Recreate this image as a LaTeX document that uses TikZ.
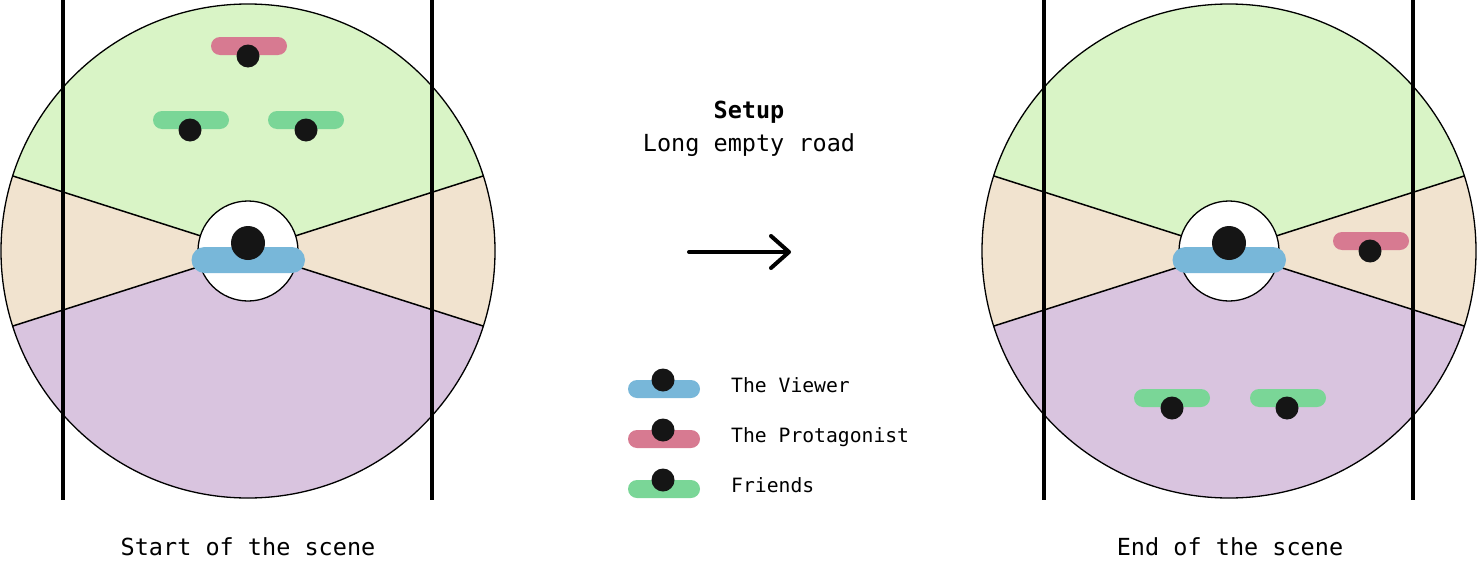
\documentclass[tikz,border=0pt]{standalone}
\usepackage{fontspec}
\setmonofont{DejaVu Sans Mono}
\usetikzlibrary{arrows.meta}
\definecolor{zgreen}{HTML}{D9F4C6}
\definecolor{zbeige}{HTML}{F1E3CF}
\definecolor{zpurple}{HTML}{D9C4DF}
\definecolor{cblue}{HTML}{78B7D9}
\definecolor{cpink}{HTML}{D77A91}
\definecolor{cgreen}{HTML}{7AD697}
\definecolor{cdot}{HTML}{151515}
\tikzset{
  outline/.style={draw=black, line width=1.3pt},
  sector/.style={draw=black, line width=1.5pt},
  road/.style={draw=black, line width=4pt},
  dot/.style={fill=cdot},
  bigtxt/.style={font=\ttfamily\fontsize{23.5}{28}\selectfont, anchor=base, inner sep=0pt},
  legtxt/.style={font=\ttfamily\fontsize{19.7}{24}\selectfont, anchor=base west, inner sep=0pt},
}
\newcommand\scenedisk[2]{%
  \begin{scope}
    \clip (#1,#2) circle (247pt);
    \fill[zpurple] (#1-260,#2-260) rectangle (#1+260,#2+260);
    \fill[zbeige] (#1,#2) -- (#1-300,#2-95.7) -- (#1-300,#2+95.7) -- cycle;
    \fill[zbeige] (#1,#2) -- (#1+300,#2-95.7) -- (#1+300,#2+95.7) -- cycle;
    \fill[zgreen] (#1,#2) -- (#1-300,#2-95.7) -- (#1-300,#2-300) -- (#1+300,#2-300) -- (#1+300,#2-95.7) -- cycle;
    \draw[sector] (#1-300,#2-95.7) -- (#1+300,#2+95.7);
    \draw[sector] (#1-300,#2+95.7) -- (#1+300,#2-95.7);
  \end{scope}
  \draw[outline] (#1,#2) circle (247pt);
  \filldraw[fill=white, outline] (#1,#2) circle (50pt);
  \fill[cblue, rounded corners=13pt] (#1-56.5,#2-4) rectangle (#1+57,#2+22);
  \fill[dot] (#1,#2-8) circle (17pt);
}
\newcommand\persona[6]{% colour, bar centre x, bar centre y, dot x, dot y, half width
  \fill[#1, rounded corners=9pt] (#2-#6,#3-9) rectangle (#2+#6,#3+9);
  \fill[dot] (#4,#5) circle (11.5pt);
}
\begin{document}
\begin{tikzpicture}[x=1pt, y=-1pt]
\useasboundingbox (0,0) rectangle (1477,562);
% left disk
\scenedisk{248}{251}
\persona{cpink}{249}{46}{248}{56}{38}
\persona{cgreen}{191}{120}{190}{130}{38}
\persona{cgreen}{306}{120}{306}{130}{38}
\draw[road] (63,0) -- (63,500);
\draw[road] (432,0) -- (432,500);
% right disk
\scenedisk{1229}{251}
\persona{cpink}{1371}{241}{1370}{251}{38}
\persona{cgreen}{1172}{398}{1172}{408}{38}
\persona{cgreen}{1288}{398}{1287}{408}{38}
\draw[road] (1044,0) -- (1044,500);
\draw[road] (1413,0) -- (1413,500);
% captions
\node[bigtxt] (start) at (248,555) {Start of the scene};
\node[bigtxt] (end) at (1230,555) {End of the scene};
\node[bigtxt, font=\ttfamily\bfseries\fontsize{23.5}{28}\selectfont] (setup) at (749,118) {Setup};
\node[bigtxt] (road) at (749,151) {Long empty road};
% arrow
\coordinate (a1) at (689,252);
\coordinate (a2) at (791,252);
\draw[line width=4pt, line cap=round, -{Straight Barb[length=18pt, width=32pt, line cap=round, line join=round]}] (a1) -- (a2);
% legend
\persona{cblue}{664}{389}{663}{380}{36}
\persona{cpink}{664}{439}{663}{430}{36}
\persona{cgreen}{664}{489}{663}{480}{36}
\node[legtxt] (l1) at (731,392) {The Viewer};
\node[legtxt] (l2) at (731,442) {The Protagonist};
\node[legtxt] (l3) at (731,492) {Friends};
\end{tikzpicture}
\end{document}
